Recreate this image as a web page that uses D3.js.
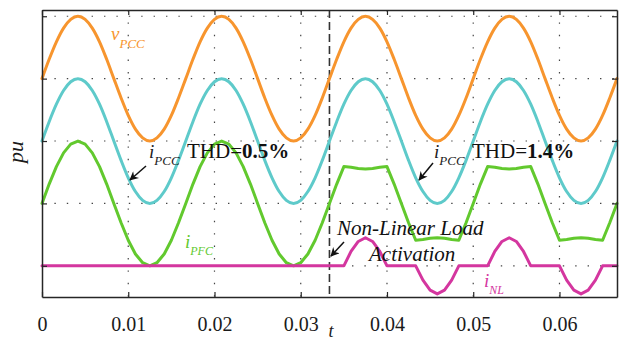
<!DOCTYPE html>
<html>
<head>
<meta charset="utf-8">
<script src="https://cdn.jsdelivr.net/npm/d3@7"></script>
<style>
  html, body { margin: 0; padding: 0; background: #ffffff; }
  svg { display: block; }
  text { font-family: "Liberation Serif", "Times New Roman", serif; }
</style>
</head>
<body>
<svg id="chart" width="623" height="342"></svg>
<script>
// Sample instants (s)
const tSec = [0, 0.00083, 0.00167, 0.0025, 0.00333, 0.00417, 0.005, 0.00583, 0.00667, 0.0075,
  0.00833, 0.00917, 0.01, 0.01083, 0.01167, 0.0125, 0.01333, 0.01417, 0.015, 0.01583,
  0.01667, 0.0175, 0.01833, 0.01917, 0.02, 0.02083, 0.02167, 0.0225, 0.02333, 0.02417,
  0.025, 0.02583, 0.02667, 0.0275, 0.02833, 0.02917, 0.03, 0.03083, 0.03167, 0.0325,
  0.03333, 0.03417, 0.035, 0.03583, 0.03667, 0.0375, 0.03833, 0.03917, 0.04, 0.04083,
  0.04167, 0.0425, 0.04333, 0.04417, 0.045, 0.04583, 0.04667, 0.0475, 0.04833, 0.04917,
  0.05, 0.05083, 0.05167, 0.0525, 0.05333, 0.05417, 0.055, 0.05583, 0.05667, 0.0575,
  0.05833, 0.05917, 0.06, 0.06083, 0.06167, 0.0625, 0.06333, 0.06417, 0.065, 0.06583,
  0.06667];

// PCC voltage (pu)
const vPCC = [0, .31, .59, .81, .95, 1, .95, .81, .59, .31, 0, -.31, -.59, -.81, -.95, -1, -.95, -.81, -.59, -.31,
  0, .31, .59, .81, .95, 1, .95, .81, .59, .31, 0, -.31, -.59, -.81, -.95, -1, -.95, -.81, -.59, -.31,
  0, .31, .59, .81, .95, 1, .95, .81, .59, .31, 0, -.31, -.59, -.81, -.95, -1, -.95, -.81, -.59, -.31,
  0, .31, .59, .81, .95, 1, .95, .81, .59, .31, 0, -.31, -.59, -.81, -.95, -1, -.95, -.81, -.59, -.31,
  0];

// PCC current (pu)
const iPCC = [0, .31, .59, .81, .95, 1, .95, .81, .59, .31, 0, -.31, -.59, -.81, -.95, -1, -.95, -.81, -.59, -.31,
  0, .31, .59, .81, .95, 1, .95, .81, .59, .31, 0, -.31, -.59, -.81, -.95, -1, -.95, -.81, -.59, -.31,
  0, .31, .59, .81, .95, 1, .95, .81, .59, .31, 0, -.31, -.59, -.81, -.95, -1, -.95, -.81, -.59, -.31,
  0, .31, .59, .81, .95, 1, .95, .81, .59, .31, 0, -.31, -.59, -.81, -.95, -1, -.95, -.81, -.59, -.31,
  0];

// PFC converter current (pu)
const iPFC = [0, .31, .59, .81, .95, 1, .95, .81, .59, .31, 0, -.31, -.59, -.81, -.95, -1, -.95, -.81, -.59, -.31,
  0, .31, .59, .81, .95, 1, .95, .81, .59, .31, 0, -.31, -.59, -.81, -.95, -1, -.95, -.81, -.59, -.31,
  0, .31, .59, .58, .56, .55, .56, .58, .59, .31, 0, -.31, -.59, -.58, -.56, -.55, -.56, -.58, -.59, -.31,
  0, .31, .59, .58, .56, .55, .56, .58, .59, .31, 0, -.31, -.59, -.58, -.56, -.55, -.56, -.58, -.59, -.31,
  0];

// Non-linear load current (pu)
const iNL = [0, 0, 0, 0, 0, 0, 0, 0, 0, 0, 0, 0, 0, 0, 0, 0, 0, 0, 0, 0,
  0, 0, 0, 0, 0, 0, 0, 0, 0, 0, 0, 0, 0, 0, 0, 0, 0, 0, 0, 0,
  0, 0, 0, .23, .39, .45, .39, .23, 0, 0, 0, 0, 0, -.23, -.39, -.45, -.39, -.23, 0, 0,
  0, 0, 0, .23, .39, .45, .39, .23, 0, 0, 0, 0, 0, -.23, -.39, -.45, -.39, -.23, 0, 0,
  0];

const xTickValues = [0, 0.01, 0.02, 0.03, 0.04, 0.05, 0.06];
const xTickLabels = ["0", "0.01", "0.02", "0.03", "0.04", "0.05", "0.06"];
const yGridValues = [-2, -1, 0, 1, 2];
const activationTime = 0.03333;
const tEnd = 0.06667;

const svg = d3.select("#chart");
const W = 623, H = 342;
const m = { left: 42, top: 10, right: 6, bottom: 45 };
const pw = W - m.left - m.right, ph = H - m.top - m.bottom;

const x = d3.scaleLinear().domain([0, tEnd]).range([m.left, m.left + pw]);
const y = d3.scaleLinear().domain([-2.5, 2.1]).range([m.top + ph, m.top]);

const axisColor = "#262626";

// Dotted grid
const grid = svg.append("g").attr("stroke", "#444").attr("stroke-width", 1.2)
  .attr("stroke-dasharray", "1.4,11");
grid.selectAll("line.gx").data(xTickValues.slice(1)).join("line")
  .attr("x1", d => x(d)).attr("x2", d => x(d))
  .attr("y1", y(2.1)).attr("y2", y(-2.5));
grid.selectAll("line.gy").data(yGridValues).join("line")
  .attr("x1", x(0)).attr("x2", x(tEnd))
  .attr("y1", d => y(d)).attr("y2", d => y(d));

// Activation instant
svg.append("line")
  .attr("x1", x(activationTime)).attr("x2", x(activationTime))
  .attr("y1", y(2.1)).attr("y2", y(-2.5))
  .attr("stroke", "#333").attr("stroke-width", 1.6)
  .attr("stroke-dasharray", "8,4");

// Traces, stacked vertically for readability
const traces = [
  { values: vPCC, offset: 1, color: "#f7952e", curve: d3.curveMonotoneX },
  { values: iPCC, offset: 0, color: "#5ecaca", curve: d3.curveMonotoneX },
  { values: iPFC, offset: -1, color: "#62c92e", curve: d3.curveLinear },
  { values: iNL, offset: -2, color: "#d4369f", curve: d3.curveLinear }
];
traces.forEach(tr => {
  const line = d3.line()
    .x((d, i) => x(tSec[i]))
    .y(d => y(d + tr.offset))
    .curve(tr.curve);
  svg.append("path")
    .datum(tr.values)
    .attr("d", line)
    .attr("fill", "none")
    .attr("stroke", tr.color)
    .attr("stroke-width", 3)
    .attr("stroke-linejoin", "round")
    .attr("stroke-linecap", "round");
});

// Axes (inward ticks on all four sides)
const bottomAxis = d3.axisBottom(x).tickValues(xTickValues)
  .tickFormat((d, i) => xTickLabels[i]).tickSizeInner(-5).tickSizeOuter(0).tickPadding(20);
const topAxis = d3.axisTop(x).tickValues(xTickValues).tickFormat("")
  .tickSizeInner(-5).tickSizeOuter(0);
const leftAxis = d3.axisLeft(y).tickValues(yGridValues).tickFormat("")
  .tickSizeInner(-5).tickSizeOuter(0);
const rightAxis = d3.axisRight(y).tickValues(yGridValues).tickFormat("")
  .tickSizeInner(-5).tickSizeOuter(0);

function styleAxis(g) {
  g.select(".domain").attr("stroke", axisColor).attr("stroke-width", 1.5);
  g.selectAll(".tick line").attr("stroke", axisColor).attr("stroke-width", 1.2);
  g.selectAll(".tick text").attr("fill", "#1a1a1a")
    .style("font-family", '"Liberation Serif", serif').style("font-size", "20px");
}
svg.append("g").attr("transform", `translate(0,${y(-2.5)})`).call(bottomAxis).call(styleAxis);
svg.append("g").attr("transform", `translate(0,${y(2.1)})`).call(topAxis).call(styleAxis);
svg.append("g").attr("transform", `translate(${x(0)},0)`).call(leftAxis).call(styleAxis);
svg.append("g").attr("transform", `translate(${x(tEnd)},0)`).call(rightAxis).call(styleAxis);

// Axis titles
svg.append("text").attr("x", 331).attr("y", 337).attr("text-anchor", "middle")
  .style("font-style", "italic").style("font-size", "18px").attr("fill", "#1a1a1a").text("t");
svg.append("text").attr("transform", "translate(23,152) rotate(-90)").attr("text-anchor", "middle")
  .style("font-style", "italic").style("font-size", "22px").attr("fill", "#1a1a1a").text("pu");

// Signal labels with subscripts
function signalLabel(xp, yp, main, sub, color, mainSize, subSize, dy) {
  const t = svg.append("text").attr("x", xp).attr("y", yp).attr("fill", color)
    .style("font-style", "italic");
  t.append("tspan").style("font-size", mainSize + "px").text(main);
  t.append("tspan").attr("dy", dy).style("font-size", subSize + "px").text(sub);
  return t;
}
signalLabel(111, 40, "v", "PCC", "#f7952e", 19, 13, 8);
signalLabel(185, 248, "i", "PFC", "#62c92e", 19, 12, 7);
signalLabel(484, 287, "i", "NL", "#d4369f", 19, 12, 7);
signalLabel(149, 158, "i", "PCC", "#1a1a1a", 19, 13, 7);
signalLabel(434, 158, "i", "PCC", "#1a1a1a", 19, 13, 7);

// THD annotations
function thdLabel(xp, yp, val) {
  const t = svg.append("text").attr("x", xp).attr("y", yp).attr("fill", "#111")
    .style("font-size", "21px");
  t.append("tspan").text("THD=");
  t.append("tspan").style("font-weight", "bold").text(val);
}
thdLabel(187, 158, "0.5%");
thdLabel(472, 158, "1.4%");

// Event annotation
svg.append("text").attr("x", 337).attr("y", 235).attr("fill", "#111")
  .style("font-style", "italic").style("font-size", "21px").text("Non-Linear Load");
svg.append("text").attr("x", 369).attr("y", 261).attr("fill", "#111")
  .style("font-style", "italic").style("font-size", "21px").text("Activation");

// Arrows
svg.append("defs").append("marker")
  .attr("id", "head").attr("viewBox", "0 0 10 10").attr("refX", 9).attr("refY", 5)
  .attr("markerWidth", 11).attr("markerHeight", 9).attr("markerUnits", "userSpaceOnUse")
  .attr("orient", "auto")
  .append("path").attr("d", "M0,0 L10,5 L0,10 L3,5 Z").attr("fill", "#111");
const arrows = [
  [146, 166, 130, 180],
  [433, 163, 419, 180],
  [344, 242, 331, 256]
];
svg.selectAll("line.arrow").data(arrows).join("line")
  .attr("x1", d => d[0]).attr("y1", d => d[1]).attr("x2", d => d[2]).attr("y2", d => d[3])
  .attr("stroke", "#111").attr("stroke-width", 1.5).attr("marker-end", "url(#head)");
</script>
</body>
</html>
